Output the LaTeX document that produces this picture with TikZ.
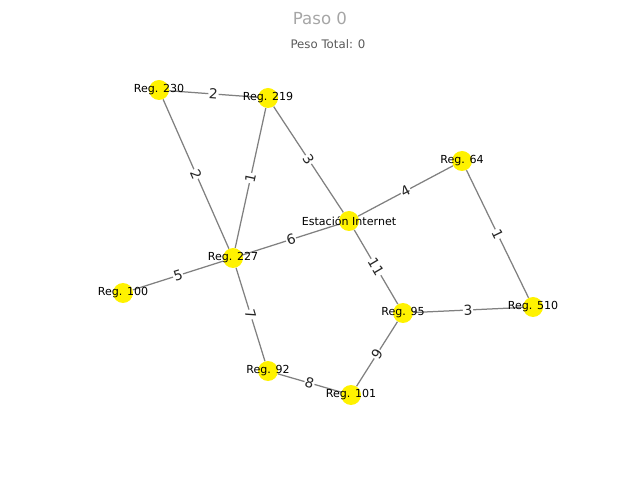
\documentclass[tikz,border=0pt]{standalone}
\usepackage{fontspec}
\setmainfont{DejaVu Sans}
\usetikzlibrary{backgrounds}

\begin{document}
\begin{tikzpicture}[x=0.254mm, y=-0.254mm,
  reg/.style={circle, fill=yellow, minimum size=5.08mm, inner sep=0pt},
  regname/.style={font=\fontsize{8}{9}\selectfont, text=black},
  link/.style={draw=gray, line width=0.9pt},
  weight/.style={fill=white, inner sep=0.5pt, sloped, font=\fontsize{10}{12}\selectfont, text=black!85}]
\useasboundingbox (0,0) rectangle (640,480);

% Titles
\node[font=\fontsize{12}{14}\selectfont, text=black!35] (title) at (320,18) {Paso 0};
\node[font=\fontsize{8.5}{10}\selectfont, text=black!65] (total) at (328,44) {Peso Total: 0};

% Regions
\node[reg, label={[regname]center:Reg. 230}] (r230) at (159,90) {};
\node[reg, label={[regname]center:Reg. 219}] (r219) at (268,98) {};
\node[reg, label={[regname]center:Estación Internet}] (est) at (349,221) {};
\node[reg, label={[regname]center:Reg. 227}] (r227) at (233,258) {};
\node[reg, label={[regname]center:Reg. 100}] (r100) at (123,293) {};
\node[reg, label={[regname]center:Reg. 64}] (r64) at (462,161) {};
\node[reg, label={[regname]center:Reg. 510}] (r510) at (533,307) {};
\node[reg, label={[regname]center:Reg. 95}] (r95) at (403,313) {};
\node[reg, label={[regname]center:Reg. 92}] (r92) at (268,371) {};
\node[reg, label={[regname]center:Reg. 101}] (r101) at (351,395) {};

% Links with weights
\begin{scope}[on background layer]
\draw[link] (r230) -- node[weight] {2} (r219);
\draw[link] (r230) -- node[weight] {2} (r227);
\draw[link] (r219) -- node[weight] {1} (r227);
\draw[link] (r219) -- node[weight] {3} (est);
\draw[link] (est) -- node[weight] {4} (r64);
\draw[link] (r227) -- node[weight] {6} (est);
\draw[link] (r227) -- node[weight] {5} (r100);
\draw[link] (r227) -- node[weight] {7} (r92);
\draw[link] (est) -- node[weight] {11} (r95);
\draw[link] (r64) -- node[weight] {1} (r510);
\draw[link] (r95) -- node[weight] {3} (r510);
\draw[link] (r95) -- node[weight] {9} (r101);
\draw[link] (r92) -- node[weight] {8} (r101);
\end{scope}

\end{tikzpicture}
\end{document}
